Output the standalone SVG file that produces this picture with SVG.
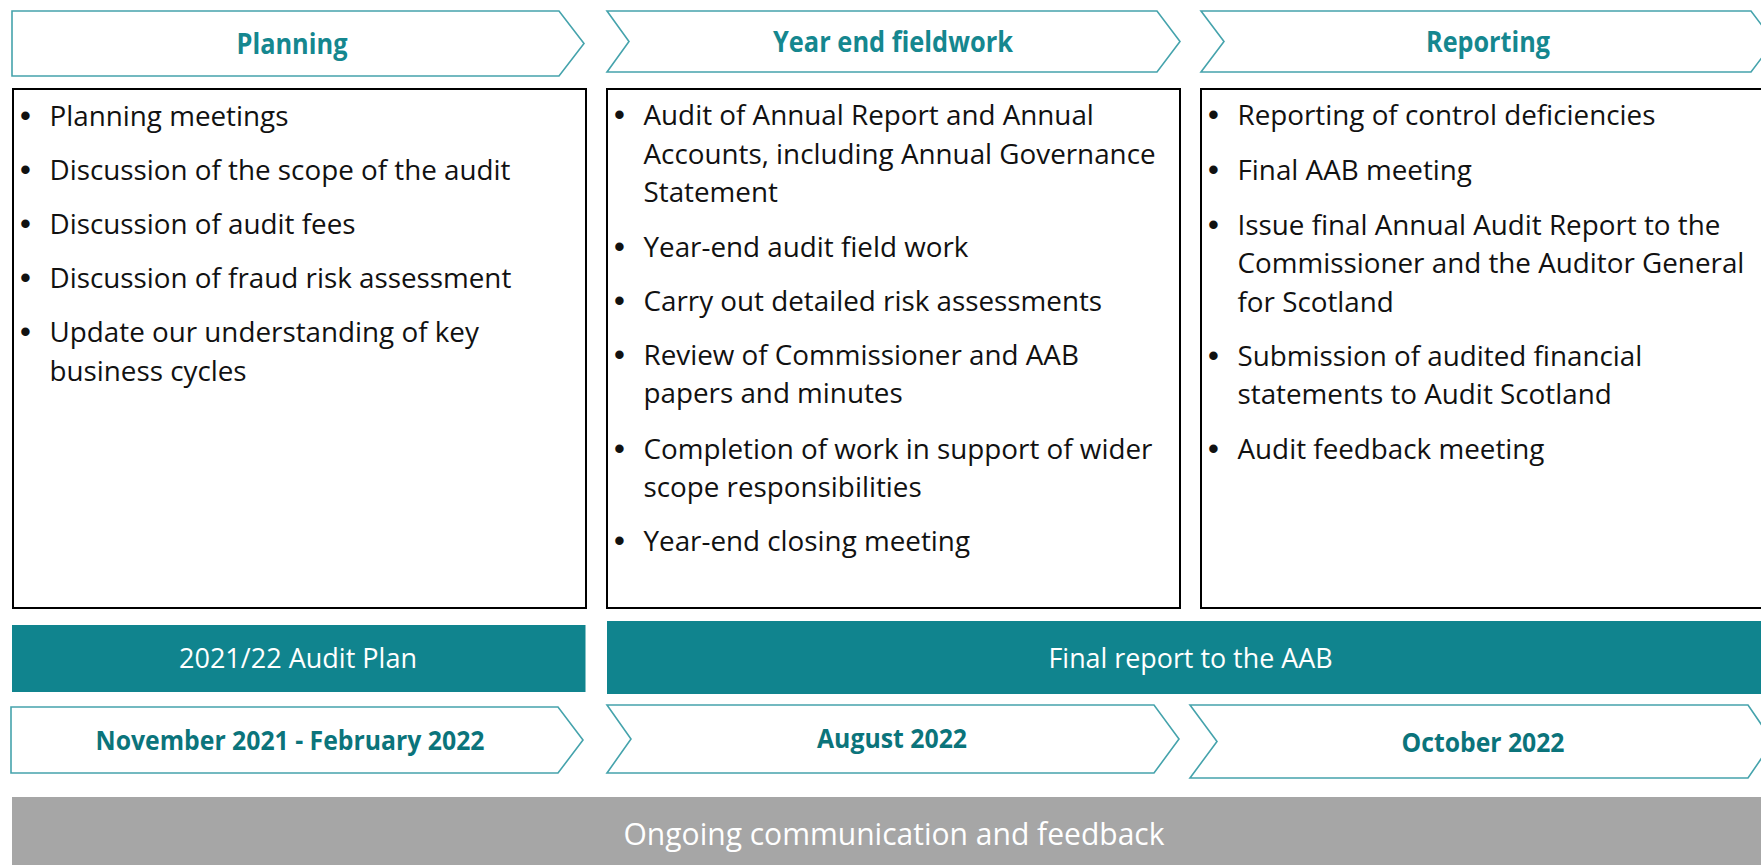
<svg xmlns="http://www.w3.org/2000/svg" width="1761" height="865" viewBox="0 0 1761 865">
<style>
.chev{fill:#ffffff;stroke:#45a3ac;stroke-width:1.6}
.box{fill:#ffffff;stroke:#000000;stroke-width:2}
.bar{fill:#10848e}
.grey{fill:#a6a6a6}
.hdr{font-family:"Open Sans","Noto Sans",sans-serif;font-weight:700;font-size:28px;fill:#15878f;text-anchor:middle}
.date{font-family:"Open Sans","Noto Sans",sans-serif;font-weight:700;font-size:26px;fill:#0b747b;text-anchor:middle}
.wt{font-family:"Open Sans","Noto Sans",sans-serif;font-size:27.5px;fill:#ffffff;text-anchor:middle}
.gt{font-family:"Open Sans","Noto Sans",sans-serif;font-size:30.5px;fill:#ffffff;text-anchor:middle}
.body{font-family:"Open Sans","Noto Sans",sans-serif;font-size:27.8px;fill:#111111}
.bul{font-family:"Liberation Sans",Arial,sans-serif;font-size:31px;fill:#111111}
</style>
<rect width="1761" height="865" fill="#ffffff"/>
<g id="phase-planning">
<polygon class="chev" points="12,11 559,11 584,43.5 559,76 12,76"/>
<text class="hdr" x="292" y="53.5" textLength="111" lengthAdjust="spacingAndGlyphs">Planning</text>
</g>
<g id="phase-fieldwork">
<polygon class="chev" points="607,11 1157,11 1180,41.5 1157,72 607,72 629,41.5"/>
<text class="hdr" x="893" y="51.5" textLength="240" lengthAdjust="spacingAndGlyphs">Year end fieldwork</text>
</g>
<g id="phase-reporting">
<polygon class="chev" points="1201,11 1751,11 1774,41.5 1751,72 1201,72 1224,41.5"/>
<text class="hdr" x="1488" y="51.5" textLength="124" lengthAdjust="spacingAndGlyphs">Reporting</text>
</g>
<g id="box-planning">
<rect class="box" x="13" y="89" width="573" height="519"/>
<g class="bul">
<text x="20" y="126">•</text>
<text x="20" y="180">•</text>
<text x="20" y="234">•</text>
<text x="20" y="288">•</text>
<text x="20" y="342">•</text>
</g>
<g class="body">
<text x="49.5" y="126">Planning meetings</text>
<text x="49.5" y="180">Discussion of the scope of the audit</text>
<text x="49.5" y="234">Discussion of audit fees</text>
<text x="49.5" y="288">Discussion of fraud risk assessment</text>
<text x="49.5" y="342">Update our understanding of key</text>
<text x="49.5" y="381">business cycles</text>
</g>
</g>
<g id="box-fieldwork">
<rect class="box" x="607" y="89" width="573" height="519"/>
<g class="bul">
<text x="614" y="125">•</text>
<text x="614" y="257">•</text>
<text x="614" y="311">•</text>
<text x="614" y="365">•</text>
<text x="614" y="459">•</text>
<text x="614" y="551">•</text>
</g>
<g class="body">
<text x="643.5" y="125">Audit of Annual Report and Annual</text>
<text x="643.5" y="164">Accounts, including Annual Governance</text>
<text x="643.5" y="202">Statement</text>
<text x="643.5" y="257">Year-end audit field work</text>
<text x="643.5" y="311">Carry out detailed risk assessments</text>
<text x="643.5" y="365">Review of Commissioner and AAB</text>
<text x="643.5" y="403">papers and minutes</text>
<text x="643.5" y="459">Completion of work in support of wider</text>
<text x="643.5" y="497">scope responsibilities</text>
<text x="643.5" y="551">Year-end closing meeting</text>
</g>
</g>
<g id="box-reporting">
<rect class="box" x="1201" y="89" width="580" height="519"/>
<g class="bul">
<text x="1208" y="125">•</text>
<text x="1208" y="180">•</text>
<text x="1208" y="235">•</text>
<text x="1208" y="366">•</text>
<text x="1208" y="459">•</text>
</g>
<g class="body">
<text x="1237.5" y="125">Reporting of control deficiencies</text>
<text x="1237.5" y="180">Final AAB meeting</text>
<text x="1237.5" y="235">Issue final Annual Audit Report to the</text>
<text x="1237.5" y="273">Commissioner and the Auditor General</text>
<text x="1237.5" y="312">for Scotland</text>
<text x="1237.5" y="366">Submission of audited financial</text>
<text x="1237.5" y="404">statements to Audit Scotland</text>
<text x="1237.5" y="459">Audit feedback meeting</text>
</g>
</g>
<g id="bar-audit-plan">
<rect class="bar" x="12" y="625" width="573.5" height="67"/>
<text class="wt" x="298" y="668" textLength="238" lengthAdjust="spacingAndGlyphs">2021/22 Audit Plan</text>
</g>
<g id="bar-final-report">
<rect class="bar" x="607" y="621" width="1154" height="73"/>
<text class="wt" x="1190.5" y="668" textLength="284" lengthAdjust="spacingAndGlyphs">Final report to the AAB</text>
</g>
<g id="date-planning">
<polygon class="chev" points="11,707 558,707 583,740 558,773 11,773"/>
<text class="date" x="290" y="750" textLength="389" lengthAdjust="spacingAndGlyphs">November 2021 - February 2022</text>
</g>
<g id="date-fieldwork">
<polygon class="chev" points="607,705 1154,705 1179,739 1154,773 607,773 631,739"/>
<text class="date" x="892" y="748" textLength="150" lengthAdjust="spacingAndGlyphs">August 2022</text>
</g>
<g id="date-reporting">
<polygon class="chev" points="1190,705 1748,705 1773,741.5 1748,778 1190,778 1217,741.5"/>
<text class="date" x="1483" y="752" textLength="163" lengthAdjust="spacingAndGlyphs">October 2022</text>
</g>
<g id="bar-ongoing">
<rect class="grey" x="12" y="797" width="1749" height="68"/>
<text class="gt" x="894" y="845" textLength="541" lengthAdjust="spacingAndGlyphs">Ongoing communication and feedback</text>
</g>
<g id="connectors"></g>
</svg>
